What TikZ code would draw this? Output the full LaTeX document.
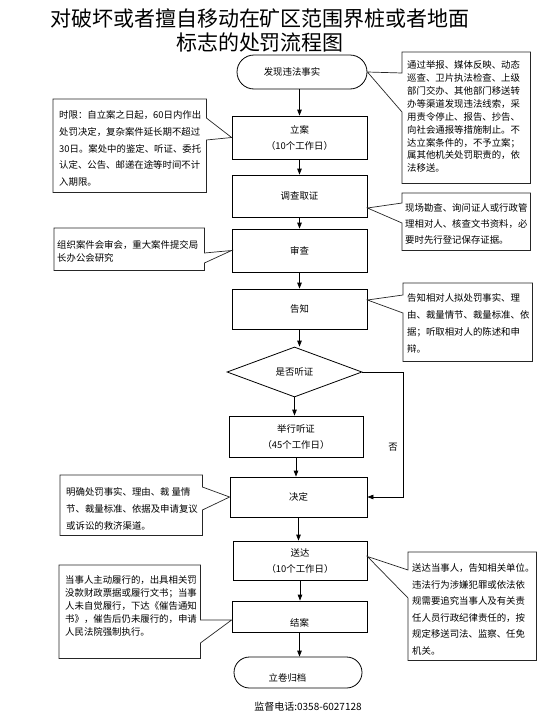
\documentclass[tikz,border=0pt]{standalone}
\usepackage{fontspec}
\setmainfont{Liberation Serif}
\newfontfamily\cjk{Noto Sans CJK SC}
\usetikzlibrary{shapes.geometric,arrows.meta,calc}
\begin{document}
\begin{tikzpicture}[x=1pt,y=-1pt,
  box/.style={draw,line width=0.8pt,minimum width=135pt,inner sep=0pt,align=center,
    font=\cjk\fontsize{9.4}{16}\selectfont},
  term/.style={box},
  cbox/.style={anchor=north west,inner sep=0pt,draw=none},
  ctext/.style={inner sep=0pt,anchor=north west,align=left},
  cline/.style={draw=black!85,line width=0.7pt,fill=white},
  arr/.style={-{Triangle[length=6pt,width=4.5pt]},line width=0.8pt},
]
\useasboundingbox (0,0) rectangle (557,723);
% title
\node[align=center,inner sep=0pt,font=\cjk\fontsize{21}{24}\selectfont] (title) at (260,30)
  {对破坏或者擅自移动在矿区范围界桩或者地面\\标志的处罚流程图};

% main flow
\node[term,minimum width=130pt,minimum height=34pt,rounded corners=17pt] (start) at (302,72) {\hspace*{-20pt}发现违法事实};
\node[box,minimum height=43pt] (lian) at (299.5,137.5) {立案\\（10个工作日）};
\node[box,minimum height=42pt] (diaocha) at (299.5,196) {调查取证};
\node[box,minimum height=43pt] (shencha) at (299.5,250.5) {审查};
\node[box,minimum height=40pt] (gaozhi) at (299.5,309) {告知};
\node[box,shape=diamond,minimum width=135pt,minimum height=50pt] (dec) at (294.5,372) {是否听证};
\node[box,minimum width=134pt,minimum height=41pt] (juxing) at (296,436.5) {举行听证\\（45个工作日）};
\node[box,minimum width=137pt,minimum height=40pt] (jueding) at (298.5,497) {决定};
\node[box,minimum width=134pt,minimum height=39pt] (songda) at (300,560.5) {送达\\（10个工作日）};
\node[box,minimum height=31pt] (jiean) at (299.5,616.5) {\raisebox{-10pt}[0pt][0pt]{结案}};
\node[term,minimum width=128pt,minimum height=31pt,rounded corners=15.5pt] (endt) at (298,672.5) {\raisebox{-9pt}[0pt][0pt]{\hspace*{-21pt}立卷归档}};
\node[inner sep=0pt,font=\cjk\fontsize{10}{12}\selectfont] (tel) at (308,707) {监督电话:0358-6027128};

% arrows
\draw[arr] (start.south -| lian.north) -- (lian.north);
\draw[arr] (lian.south) -- (diaocha.north);
\draw[arr] (diaocha.south) -- (shencha.north);
\draw[arr] (shencha.south) -- (gaozhi.north);
\draw[arr] (gaozhi.south) -- (gaozhi.south |- dec.north);
\draw[arr] (dec.south) -- (dec.south |- juxing.north);
\draw[arr] (juxing.south) -- (juxing.south |- jueding.north);
\draw[arr] (jueding.south) -- (jueding.south |- songda.north);
\draw[arr] (songda.south) -- (songda.south |- jiean.north);
\draw[arr] (jiean.south) -- (jiean.south |- endt.north);
\coordinate (noX) at (403,0);
\draw[arr] (dec.east) -- (dec.east -| noX) |- (jueding.east);
\node[inner sep=0pt,font=\cjk\fontsize{9.4}{12}\selectfont] (nolab) at (393,447) {否};

% callout 1
\node[cbox,minimum width=128pt,minimum height=131pt] (c1) at (402,52) {};
\draw[cline] (c1.north west) -- (c1.north east) -- (c1.south east) -- (c1.south west)
  -- ([yshift=-60pt]c1.north west) -- (start.east) -- ([yshift=-21pt]c1.north west) -- cycle;
\node[ctext,font=\cjk\fontsize{9.4}{12.9}\selectfont] (t1) at (407,60.5) {通过举报、媒体反映、动态\\巡查、卫片执法检查、上级\\部门交办、其他部门移送转\\办等渠道发现违法线索，采\\用责令停止、报告、抄告、\\向社会通报等措施制止。不\\达立案条件的，不予立案；\\属其他机关处罚职责的，依\\法移送。};

% callout 2
\node[cbox,minimum width=153pt,minimum height=93pt] (c2) at (53,99) {};
\draw[cline] (c2.north west) -- (c2.north east) -- ([yshift=-19pt]c2.north east) -- (lian.west)
  -- ([yshift=-41pt]c2.north east) -- (c2.south east) -- (c2.south west) -- cycle;
\node[ctext,font=\cjk\fontsize{9.4}{16.75}\selectfont] (t2) at (59,110.5) {时限：自立案之日起，60日内作出\\处罚决定，复杂案件延长期不超过\\30日。案处中的鉴定、听证、委托\\认定、公告、邮递在途等时间不计\\入期限。};

% callout 3
\node[cbox,minimum width=128pt,minimum height=57pt] (c3) at (402,193) {};
\draw[cline] (c3.north west) -- (c3.north east) -- (c3.south east) -- (c3.south west)
  -- ([yshift=-30pt]c3.north west) -- ([yshift=-12pt]diaocha.east) -- ([yshift=-10pt]c3.north west) -- cycle;
\node[ctext,font=\cjk\fontsize{9.4}{16}\selectfont] (t3) at (405,203.5) {现场勘查、询问证人或行政管\\理相对人、核查文书资料，必\\要时先行登记保存证据。};

% callout 4
\node[cbox,minimum width=150pt,minimum height=42pt] (c4) at (54,228) {};
\draw[cline] (c4.north west) -- (c4.north east) -- ([yshift=-25pt]c4.north east) -- (shencha.west)
  -- ([yshift=-35pt]c4.north east) -- (c4.south east) -- (c4.south west) -- cycle;
\node[ctext,font=\cjk\fontsize{9.4}{13}\selectfont] (t4) at (57,240.5) {组织案件会审会，重大案件提交局\\长办公会研究};

% callout 5
\node[cbox,minimum width=129pt,minimum height=78pt] (c5) at (403,283) {};
\draw[cline] (c5.north west) -- (c5.north east) -- (c5.south east) -- (c5.south west)
  -- ([yshift=-30pt]c5.north west) -- ([yshift=9pt]gaozhi.east) -- ([yshift=-12pt]c5.north west) -- cycle;
\node[ctext,font=\cjk\fontsize{9.4}{17}\selectfont] (t5) at (407,293.5) {告知相对人拟处罚事实、理\\由、裁量情节、裁量标准、依\\据；听取相对人的陈述和申\\辩。};

% callout 6
\node[cbox,minimum width=142pt,minimum height=60pt] (c6) at (60,475) {};
\draw[cline] (c6.north west) -- (c6.north east) -- ([yshift=-12pt]c6.north east) -- (jueding.west)
  -- ([yshift=-35pt]c6.north east) -- (c6.south east) -- (c6.south west) -- cycle;
\node[ctext,font=\cjk\fontsize{9.4}{17}\selectfont] (t6) at (66,487.5) {明确处罚事实、理由、裁 量情\\节、裁量标准、依据及申请复议\\或诉讼的救济渠道。};

% callout 7
\node[cbox,minimum width=128pt,minimum height=108pt] (c7) at (408,552) {};
\draw[cline] (c7.north west) -- (c7.north east) -- (c7.south east) -- (c7.south west)
  -- ([yshift=-46pt]c7.north west) -- ([yshift=4pt]songda.east) -- ([yshift=-18pt]c7.north west) -- cycle;
\node[ctext,font=\cjk\fontsize{9.4}{16.5}\selectfont] (t7) at (412,563.5) {送达当事人，告知相关单位。\\违法行为涉嫌犯罪或依法依\\规需要追究当事人及有关责\\任人员行政纪律责任的，按\\规定移送司法、监察、任免\\机关。};

% callout 8
\node[cbox,minimum width=141pt,minimum height=93pt] (c8) at (59,565) {};
\draw[cline] (c8.north west) -- (c8.north east) -- ([yshift=-55pt]c8.north east) -- ([yshift=-3.5pt]jiean.west)
  -- ([yshift=-78pt]c8.north east) -- (c8.south east) -- (c8.south west) -- cycle;
\node[ctext,font=\cjk\fontsize{9.4}{13}\selectfont] (t8) at (65,575.5) {当事人主动履行的，出具相关罚\\没款财政票据或履行文书；当事\\人未自觉履行，下达《催告通知\\书》，催告后仍未履行的，申请\\人民法院强制执行。};
\end{tikzpicture}
\end{document}
